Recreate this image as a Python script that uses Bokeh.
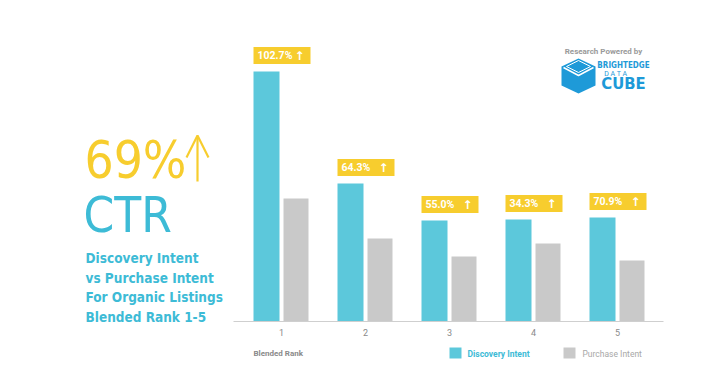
from bokeh.plotting import figure
from bokeh.models import Range1d, Label, Arrow, OpenHead, ColumnDataSource
from bokeh.transform import dodge
from bokeh.core.properties import value
from bokeh.embed import file_html
from bokeh.resources import INLINE

# ---- data ----
ranks = [1, 2, 3, 4, 5]
rank_labels = ["1", "2", "3", "4", "5"]
discovery = [25.0, 13.8, 10.1, 10.2, 10.4]
purchase = [12.3, 8.3, 6.5, 7.8, 6.1]
lift_labels = ["102.7%", "64.3%", "55.0%", "34.3%", "70.9%"]
series_names = ["Discovery Intent", "Purchase Intent"]

BLUE = "#5CC8DB"
GRAY = "#C9C9C9"
YELLOW = "#F7CD2E"
TXT_BLUE = "#3DBBD6"
LOGO_BLUE = "#1E9AD8"
NARROW = "'Liberation Sans Narrow', 'DejaVu Sans Condensed', 'Roboto', sans-serif"

W, H = 699, 369
OFF = 0  # page offset of the canvas as observed


def dx(px):
    return 1 + (px - 281) / 84.0


def dy(py):
    return (321 - py) / 10.0


p = figure(width=W, height=H, output_backend="svg", toolbar_location=None,
           x_range=Range1d(dx(OFF), dx(OFF + W)), y_range=Range1d(dy(OFF + H), dy(OFF)),
           x_axis_location=None, y_axis_location=None, min_border=0,
           outline_line_color=None, background_fill_color="white",
           border_fill_color="white")
p.grid.visible = False

src = ColumnDataSource(dict(rank=ranks, disc=discovery, purch=purchase,
                            lab=lift_labels, tick=rank_labels,
                            box_y=[v + 1.6 for v in discovery],
                            tick_y=[dy(332)] * len(ranks)))

# bars
p.vbar(x=dodge("rank", -15 / 84.0, range=p.x_range), top="disc", width=26 / 84.0,
       bottom=0, source=src, fill_color=BLUE, line_color=None)
p.vbar(x=dodge("rank", 14.5 / 84.0, range=p.x_range), top="purch", width=25 / 84.0,
       bottom=0, source=src, fill_color=GRAY, line_color=None)

# axis baseline
p.segment(x0=[dx(233)], y0=[0], x1=[dx(663)], y1=[0], line_color="#CFCFCF", line_width=1)

# tick labels
p.text(x="rank", y="tick_y", text="tick", source=src, text_align="center",
       text_baseline="middle", text_font=value("Roboto"), text_font_size="9px",
       text_color="#8A8A8A")

# yellow lift boxes
p.rect(x=dodge("rank", 0.5 / 84.0, range=p.x_range), y="box_y", width=57, height=17,
       width_units="screen", height_units="screen", source=src,
       fill_color=YELLOW, line_color=None)
p.text(x="rank", y="box_y", text="lab", source=src, x_offset=-24,
       text_align="left", text_baseline="middle", text_font=value("Roboto"),
       text_font_style="bold", text_font_size="10.5px", text_color="white")
p.text(x=dodge("rank", 18 / 84.0, range=p.x_range), y="box_y", text=value("↑"),
       source=src, text_align="center", text_baseline="middle",
       text_font=value("DejaVu Sans"), text_font_style="bold",
       text_font_size="12px", text_color="white")

# left headline
p.add_layout(Label(x=dx(84), y=dy(160), text="69%", text_font=NARROW,
                   text_font_size="51px", text_color=YELLOW,
                   text_baseline="alphabetic", text_align="left"))
p.add_layout(Arrow(end=OpenHead(size=22, line_width=2.2, line_color=YELLOW),
                   x_start=dx(197), y_start=dy(181), x_end=dx(197), y_end=dy(135),
                   line_width=2.2, line_color=YELLOW))
p.add_layout(Label(x=dx(83), y=dy(215), text="CTR", text_font=NARROW,
                   text_font_size="49px", text_color=TXT_BLUE,
                   text_baseline="alphabetic", text_align="left"))
sub = ["Discovery Intent", "vs Purchase Intent", "For Organic Listings", "Blended Rank 1-5"]
for i, s in enumerate(sub):
    p.add_layout(Label(x=dx(85), y=dy(257.5 + 19.6 * i), text=s, text_font=NARROW,
                       text_font_style="bold", text_font_size="13.5px",
                       text_color=TXT_BLUE, text_baseline="alphabetic"))

# x axis title and legend
p.add_layout(Label(x=dx(253), y=dy(353), text="Blended Rank", text_font="Roboto",
                   text_font_style="bold", text_font_size="8px", text_color="#8A8A8A",
                   text_baseline="middle"))
p.rect(x=[dx(455), dx(569)], y=[dy(352.5)] * 2, width=12, height=11,
       width_units="screen", height_units="screen", fill_color=[BLUE, GRAY],
       line_color=None)
p.add_layout(Label(x=dx(467), y=dy(353), text=series_names[0], text_font="Roboto",
                   text_font_style="bold", text_font_size="8.5px", text_color=TXT_BLUE,
                   text_baseline="middle"))
p.add_layout(Label(x=dx(582), y=dy(353), text=series_names[1], text_font="Roboto",
                   text_font_size="8.5px", text_color="#A8A8A8",
                   text_baseline="middle"))

# logo
p.add_layout(Label(x=dx(603), y=dy(51), text="Research Powered by", text_font="Roboto",
                   text_font_style="bold", text_font_size="8px", text_color="#9A9A9A",
                   text_baseline="middle", text_align="center"))
hx = [561, 578, 595, 595, 578, 561]
hy = [66, 58, 66, 85, 93, 85]
p.patch(x=[dx(v) for v in hx], y=[dy(v) for v in hy], fill_color=LOGO_BLUE,
        line_color=None)
p.line(x=[dx(v) for v in [563, 578, 593]], y=[dy(v) for v in [67, 75, 67]],
       line_color="white", line_width=1.5)
p.line(x=[dx(v) for v in [566, 578, 590, 578, 566]],
       y=[dy(v) for v in [66, 60, 66, 72, 66]], line_color="white", line_width=1)
p.add_layout(Label(x=dx(623), y=dy(65), text="BRIGHTEDGE", text_font=NARROW,
                   text_font_style="bold", text_font_size="8px", text_color=LOGO_BLUE,
                   text_baseline="middle", text_align="center"))
p.add_layout(Label(x=dx(623), y=dy(73.5), text="D    A    T    A", text_font="Roboto",
                   text_font_size="7px", text_color=LOGO_BLUE,
                   text_baseline="middle", text_align="center"))
p.add_layout(Label(x=dx(623), y=dy(83), text="CUBE", text_font=NARROW,
                   text_font_style="bold", text_font_size="16.5px", text_color=LOGO_BLUE,
                   text_baseline="alphabetic", text_align="center"))

open("out.html", "w").write(file_html(p, INLINE))
